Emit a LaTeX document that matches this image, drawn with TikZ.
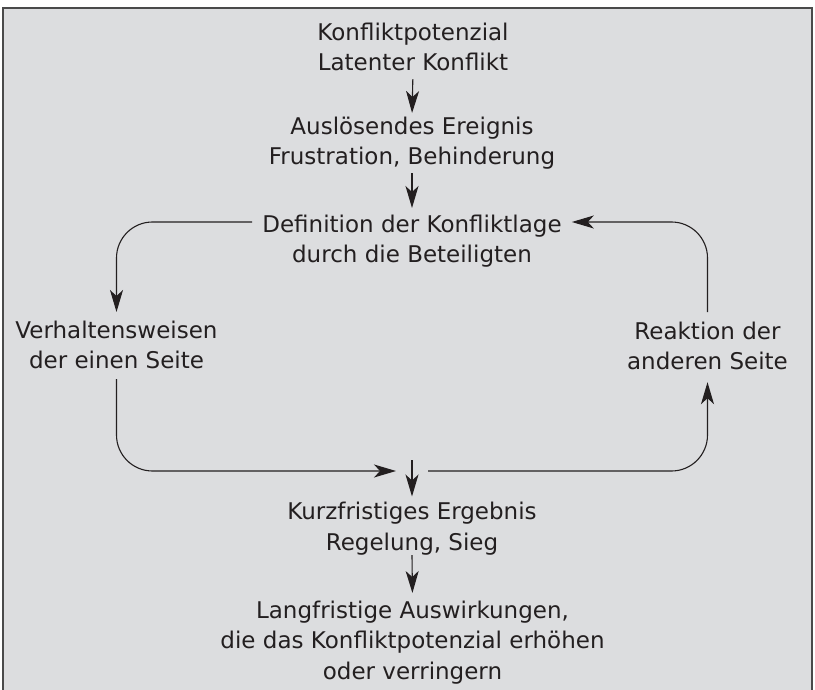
\documentclass[tikz,border=0pt]{standalone}
\usepackage{fontspec}
\setmainfont{DejaVu Sans}
\usetikzlibrary{arrows.meta}
\definecolor{hgrau}{HTML}{DCDDDF}
\definecolor{rahmen}{HTML}{4A4A4A}
\definecolor{schrift}{HTML}{231F20}
\begin{document}
\begin{tikzpicture}[x=1pt,y=-1pt,
	txt/.style={align=center,inner sep=0pt,anchor=north,text=schrift,
		font=\fontsize{23}{30.5}\selectfont},
	pfeil/.style={line width=1.1pt,schrift,
		-{Stealth[length=22pt,width=13pt,inset=6pt]}},
	ecke/.style={rounded corners=36pt}]
	% Hintergrund und Rahmen
	\useasboundingbox (0,0) rectangle (815,690);
	\fill[hgrau] (3,8) rectangle (812,700);
	\draw[rahmen,line width=1.5pt] (3,700) -- (3,8) -- (812,8) -- (812,700);
	
	% Texte
	\node[txt] (potenzial) at (413,22.5) {Konfliktpotenzial\\Latenter Konflikt};
	\node[txt] (ausloesend) at (412,116.5) {Auslösendes Ereignis\\Frustration, Behinderung};
	\node[txt] (definition) at (412,214.5) {Definition der Konfliktlage\\durch die Beteiligten};
	\node[txt] (verhalten) at (116.5,320.5) {Verhaltensweisen\\der einen Seite};
	\node[txt] (reaktion) at (707.5,321.5) {Reaktion der\\anderen Seite};
	\node[txt] (ergebnis) at (412,502) {Kurzfristiges Ergebnis\\Regelung, Sieg};
	\node[txt] (langfristig) at (412.5,600.5) {Langfristige Auswirkungen,\\die das Konfliktpotenzial erhöhen\\oder verringern};
	
	% Treffpunkt über dem Ergebnis
	\coordinate (treff) at (412,471);
	
	% Pfeile in der Mitte
	\draw[pfeil,shorten <=8pt,shorten >=3.5pt] (potenzial.south) -- (ausloesend.north);
	\draw[pfeil,shorten <=3.5pt,shorten >=6.5pt] (ausloesend.south) -- (definition.north);
	\draw[pfeil,shorten >=5.5pt] ([yshift=11pt]treff) -- (ergebnis.north);
	\draw[pfeil,shorten >=7.5pt] (ergebnis.south) -- (langfristig.north);
	
	% Kreislauf
	\draw[pfeil,ecke,shorten >=8.5pt] ([shift={(-10pt,-7.5pt)}]definition.north west) -| (verhalten.north);
	\draw[pfeil,ecke,shorten <=10pt,shorten >=16pt] (verhalten.south) |- (treff);
	\draw[pfeil,ecke,shorten >=12pt] ([xshift=16pt]treff) -| (reaktion.south);
	\draw[pfeil,ecke,shorten <=9.5pt] (reaktion.north) |- ([shift={(10pt,-7.5pt)}]definition.north east);
\end{tikzpicture}
\end{document}
